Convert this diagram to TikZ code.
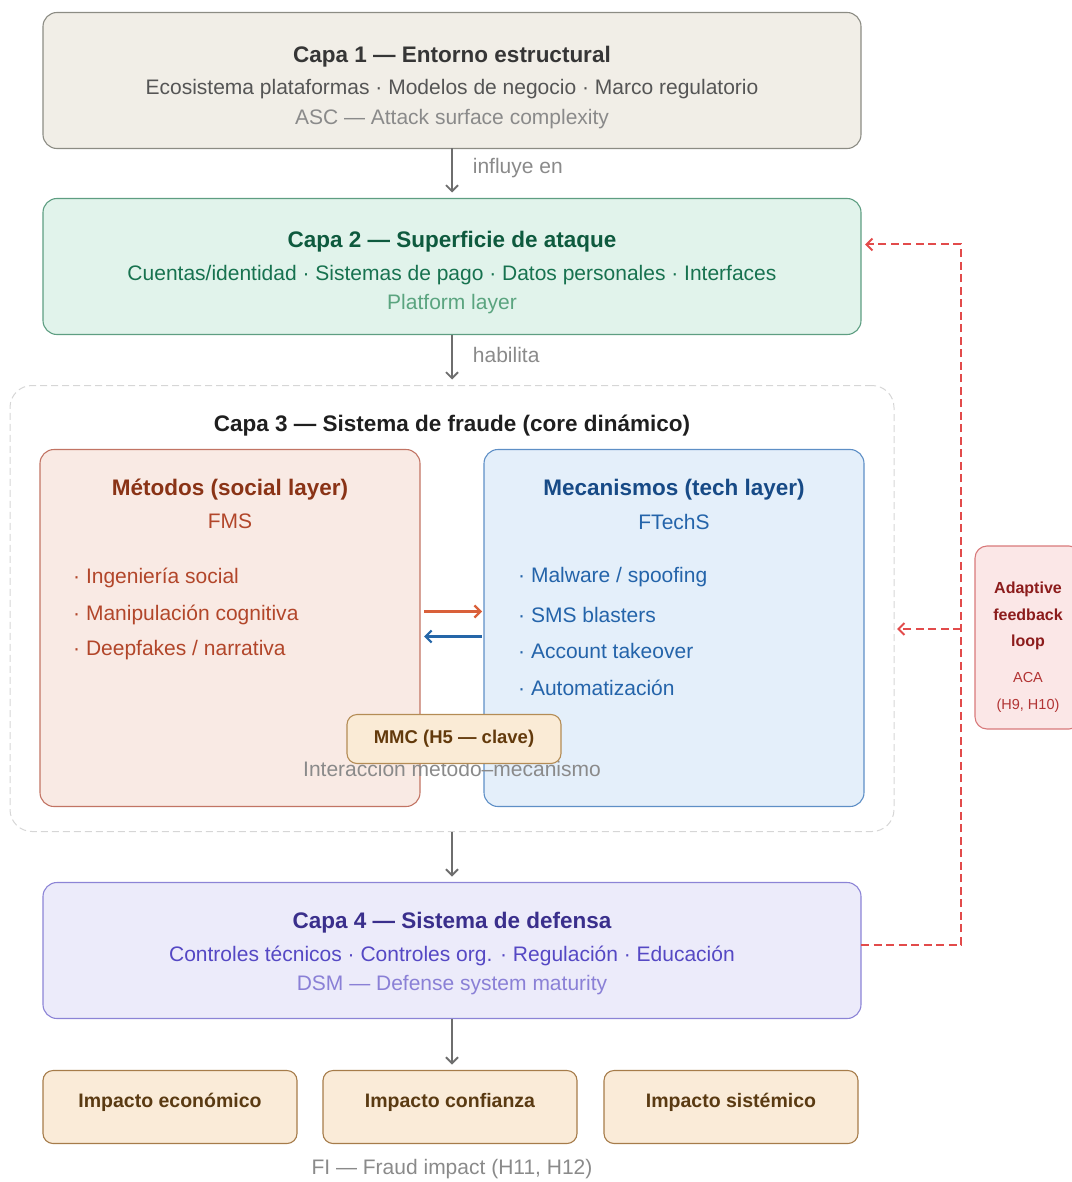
\documentclass[tikz,border=0pt]{standalone}
\usepackage{fontspec}
\setmainfont{Liberation Sans}
\usetikzlibrary{arrows.meta,positioning,calc}

\definecolor{cOneFill}{HTML}{F1EEE7}
\definecolor{cOneDraw}{HTML}{8C8C84}
\definecolor{cOneTtl}{HTML}{363636}
\definecolor{cOneSub}{HTML}{555555}
\definecolor{cOneNote}{HTML}{8A8A8A}
\definecolor{cTwoFill}{HTML}{E1F3EB}
\definecolor{cTwoDraw}{HTML}{5E9E82}
\definecolor{cTwoTtl}{HTML}{0E5A3E}
\definecolor{cTwoSub}{HTML}{17724F}
\definecolor{cTwoNote}{HTML}{5AA47F}
\definecolor{metFill}{HTML}{F9EAE4}
\definecolor{metDraw}{HTML}{C27464}
\definecolor{metTtl}{HTML}{8A3316}
\definecolor{metTxt}{HTML}{B2462A}
\definecolor{mecFill}{HTML}{E4EFFA}
\definecolor{mecDraw}{HTML}{5E8FC6}
\definecolor{mecTtl}{HTML}{174A86}
\definecolor{mecTxt}{HTML}{2464AA}
\definecolor{mmcFill}{HTML}{FAEBD6}
\definecolor{mmcDraw}{HTML}{B48C55}
\definecolor{mmcTxt}{HTML}{633A0C}
\definecolor{cFourFill}{HTML}{ECEBFA}
\definecolor{cFourDraw}{HTML}{8C84D6}
\definecolor{cFourTtl}{HTML}{3A2F8C}
\definecolor{cFourSub}{HTML}{5548C4}
\definecolor{cFourNote}{HTML}{8A80D6}
\definecolor{impFill}{HTML}{FAEBD8}
\definecolor{impDraw}{HTML}{A67C4A}
\definecolor{impTxt}{HTML}{5A3A12}
\definecolor{loopFill}{HTML}{FBE7E7}
\definecolor{loopDraw}{HTML}{D8797A}
\definecolor{loopTtl}{HTML}{8C1C1C}
\definecolor{loopTxt}{HTML}{B23434}
\definecolor{fbRed}{HTML}{E24B4B}
\definecolor{arrGray}{HTML}{6E6E6E}
\definecolor{lblGray}{HTML}{8A8A8A}
\definecolor{frameGray}{HTML}{D6D6D6}
\definecolor{toMec}{HTML}{D9603A}
\definecolor{toMet}{HTML}{2566A8}

\begin{document}
\begin{tikzpicture}[x=1pt, y=-1pt,
  layer/.style={draw, line width=1.1pt, rounded corners=14pt, minimum width=818pt, minimum height=136pt, inner sep=0pt, outer sep=0pt},
  panel/.style={draw, line width=1.1pt, rounded corners=14pt, minimum width=380pt, minimum height=357pt, inner sep=0pt, outer sep=0pt},
  impbox/.style={draw=impDraw, fill=impFill, line width=1.1pt, rounded corners=10pt, minimum width=254pt, minimum height=73pt, inner sep=0pt, outer sep=0pt,
    text=impTxt, font=\bfseries\fontsize{19.5}{23}\selectfont, text height=15pt, text depth=15pt},
  ttl/.style={font=\bfseries\fontsize{22.5}{26}\selectfont, inner sep=0pt},
  sub/.style={font=\fontsize{21}{24}\selectfont, inner sep=0pt},
  itm/.style={font=\fontsize{21}{24}\selectfont, inner sep=0pt, anchor=west},
  lbl/.style={font=\fontsize{21}{24}\selectfont, text=lblGray, inner sep=0pt},
  garr/.style={draw=arrGray, line width=1.8pt, -{Straight Barb[length=6pt,width=12pt]}, shorten >=6pt},
  xarr/.style={line width=2.2pt, -{Straight Barb[length=6pt,width=12pt]}},
  fb/.style={draw=fbRed, line width=2pt, dash pattern=on 8pt off 4.5pt, -{Straight Barb[length=6pt,width=12pt]}}
]
\useasboundingbox (0,0) rectangle (1071,1182);

% Capa 1
\node[layer, fill=cOneFill, draw=cOneDraw] (l1) at (452,80.5) {};
\node[ttl, text=cOneTtl] (l1t) at ($(l1.north)+(0,44)$) {Capa 1 — Entorno estructural};
\node[sub, text=cOneSub] (l1s) at ($(l1.north)+(0,77)$) {Ecosistema plataformas · Modelos de negocio · Marco regulatorio};
\node[sub, text=cOneNote] (l1n) at ($(l1.north)+(0,107)$) {ASC — Attack surface complexity};

% Capa 2
\node[layer, fill=cTwoFill, draw=cTwoDraw, below=50pt of l1] (l2) {};
\node[ttl, text=cTwoTtl] (l2t) at ($(l2.north)+(0,43)$) {Capa 2 — Superficie de ataque};
\node[sub, text=cTwoSub] (l2s) at ($(l2.north)+(0,77)$) {Cuentas/identidad · Sistemas de pago · Datos personales · Interfaces};
\node[sub, text=cTwoNote] (l2n) at ($(l2.north)+(0,106)$) {Platform layer};

% Capa 3
\node[draw=frameGray, line width=1pt, dash pattern=on 7pt off 4pt, rounded corners=22pt,
  minimum width=884pt, minimum height=446pt, inner sep=0pt, outer sep=0pt, below=51pt of l2] (fr) {};
\node[ttl, text=black!88] (frt) at ($(fr.north)+(0,40)$) {Capa 3 — Sistema de fraude (core dinámico)};

\node[panel, fill=metFill, draw=metDraw, below right=64pt and 30pt of fr.north west] (met) {};
\node[panel, fill=mecFill, draw=mecDraw, right=64pt of met] (mec) {};

\node[ttl, text=metTtl] (metT) at ($(met.north)+(0,40)$) {Métodos (social layer)};
\node[sub, text=metTxt] (metS) at ($(met.north)+(0,72)$) {FMS};
\node[itm, text=metTxt] (met1) at ($(met.north west)+(33,128)$) {· Ingeniería social};
\node[itm, text=metTxt] (met2) at ($(met.north west)+(33,165)$) {· Manipulación cognitiva};
\node[itm, text=metTxt] (met3) at ($(met.north west)+(33,201)$) {· Deepfakes / narrativa};

\node[ttl, text=mecTtl] (mecT) at ($(mec.north)+(0,40)$) {Mecanismos (tech layer)};
\node[sub, text=mecTxt] (mecS) at ($(mec.north)+(0,72)$) {FTechS};
\node[itm, text=mecTxt] (mec1) at ($(mec.north west)+(34,128)$) {· Malware / spoofing};
\node[itm, text=mecTxt] (mec2) at ($(mec.north west)+(34,165)$) {· SMS blasters};
\node[itm, text=mecTxt] (mec3) at ($(mec.north west)+(34,201)$) {· Account takeover};
\node[itm, text=mecTxt] (mec4) at ($(mec.north west)+(34,238)$) {· Automatización};

\draw[xarr, draw=toMec] ([shift={(4,-16.5)}]met.east) -- ([shift={(-2,-16.5)}]mec.west);
\draw[xarr, draw=toMet] ([shift={(-2,8.5)}]mec.west) -- ([shift={(4,8.5)}]met.east);

\node[lbl] (inter) at ($(met.east)!0.5!(mec.west)+(0,141)$) {Interacción método–mecanismo};
\node[draw=mmcDraw, fill=mmcFill, line width=1.1pt, rounded corners=10pt, minimum width=214pt, minimum height=49pt,
  text=mmcTxt, font=\bfseries\fontsize{18.5}{22}\selectfont] (mmc) at ($(met.east)!0.5!(mec.west)+(2,111)$) {MMC (H5 — clave)};

% Capa 4
\node[layer, fill=cFourFill, draw=cFourDraw, below=51pt of fr] (l4) {};
\node[ttl, text=cFourTtl] (l4t) at ($(l4.north)+(0,40)$) {Capa 4 — Sistema de defensa};
\node[sub, text=cFourSub] (l4s) at ($(l4.north)+(0,73)$) {Controles técnicos · Controles org. · Regulación · Educación};
\node[sub, text=cFourNote] (l4n) at ($(l4.north)+(0,103)$) {DSM — Defense system maturity};

% impactos
\node[impbox, below=52pt of l4.south, anchor=north, xshift=-2pt] (i2) {Impacto confianza};
\node[impbox, left=26pt of i2] (i1) {Impacto económico};
\node[impbox, right=27pt of i2] (i3) {Impacto sistémico};
\node[lbl] (fi) at ($(i2.south)+(2,26)$) {FI — Fraud impact (H11, H12)};

% flechas verticales
\draw[garr] (l1) -- node[lbl, right=20pt, pos=0.4] {influye en} (l2);
\draw[garr] (l2) -- node[lbl, right=20pt, pos=0.4] {habilita} (fr);
\draw[garr] (fr) -- (l4);
\draw[garr] (l4.south) -- (l4.south |- i2.north);

% feedback loop
\node[draw=loopDraw, fill=loopFill, line width=1.1pt, rounded corners=12pt, minimum width=106pt, minimum height=183pt, inner sep=0pt] (loop) at (1028,637.5) {};
\node[text=loopTtl, font=\bfseries\fontsize{16}{26.5}\selectfont, align=center, inner sep=0pt] (loopT) at ($(loop.north)+(0,70.5)$) {Adaptive\\feedback\\loop};
\node[text=loopTxt, font=\fontsize{14.5}{27}\selectfont, align=center, inner sep=0pt] (loopS) at ($(loop.north)+(0,146.5)$) {ACA\\(H9, H10)};

\coordinate (fbmid) at (961,629);
\coordinate (fbtop) at ([shift={(4,-22)}]l2.east);
\coordinate (frEdge) at (fbmid -| fr.east);
\draw[fb] ([yshift=6pt]l4.east) -| (fbmid) |- (fbtop);
\draw[fb] (fbmid) -- ([xshift=3pt]frEdge);
\end{tikzpicture}
\end{document}
